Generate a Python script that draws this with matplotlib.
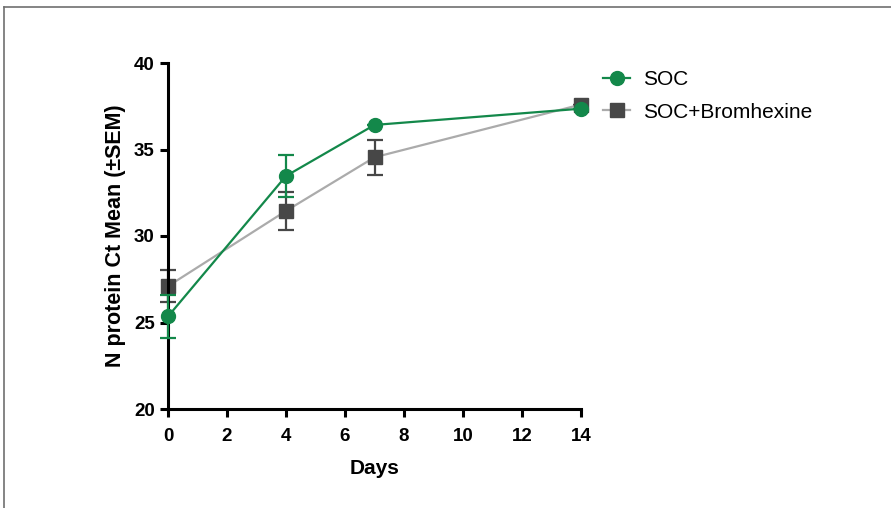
import matplotlib
matplotlib.use("Agg")
import matplotlib.pyplot as plt
from matplotlib.lines import Line2D

days = [0, 4, 7, 14]
soc_mean = [25.35, 33.47, 36.42, 37.36]
soc_sem = [1.22, 1.2, 0.0, 0.0]
brom_mean = [27.1, 31.45, 34.55, 37.6]
brom_sem = [0.92, 1.1, 1.0, 0.0]
series_labels = ["SOC", "SOC+Bromhexine"]
xticks = [0, 2, 4, 6, 8, 10, 12, 14]
yticks = [20, 25, 30, 35, 40]

plt.rcParams['font.family'] = ['Liberation Sans', 'DejaVu Sans']

fig = plt.figure(figsize=(8.91, 5.08), dpi=100)
ax = fig.add_axes([168/891, 1-409/508, (581-168)/891, (409-63)/508])

green = '#13884a'
gray_line = '#ababab'
gray_mk = '#474747'

ax.errorbar(days, brom_mean, yerr=brom_sem, color=gray_line, lw=1.6,
            marker='s', ms=10, mfc=gray_mk, mec=gray_mk, ecolor=gray_mk,
            elinewidth=1.6, capsize=6, capthick=1.6, zorder=2, clip_on=False)
ax.errorbar(days, soc_mean, yerr=soc_sem, color=green, lw=1.6,
            marker='o', ms=10, mfc=green, mec=green, ecolor=green,
            elinewidth=1.6, capsize=6, capthick=1.6, zorder=3, clip_on=False)

ax.set_xlim(0, 14)
ax.set_ylim(20, 40)
ax.set_xticks(xticks)
ax.set_yticks(yticks)
for s in ['top', 'right']:
    ax.spines[s].set_visible(False)
for s in ['left', 'bottom']:
    ax.spines[s].set_linewidth(2.2)
ax.tick_params(axis='both', direction='out', length=5.5, width=2.2, labelsize=13.5)
ax.tick_params(axis='x', pad=8)
ax.tick_params(axis='y', pad=4)
for lab in ax.get_xticklabels() + ax.get_yticklabels():
    lab.set_fontweight('bold')

ax.set_xlabel("Days", fontsize=15, fontweight='bold', labelpad=10)
ax.set_ylabel("N protein Ct Mean (±SEM)", fontsize=15.5, fontweight='bold', labelpad=6)

handles = [
    Line2D([], [], color=green, lw=1.6, marker='o', ms=10, mfc=green, mec=green),
    Line2D([], [], color=gray_line, lw=1.6, marker='s', ms=10, mfc=gray_mk, mec=gray_mk),
]
fig.legend(handles, series_labels, loc='upper left', bbox_to_anchor=(603/891, 1-70/508),
           frameon=False, fontsize=15, handlelength=1.3, handletextpad=0.6,
           labelspacing=0.65, borderaxespad=0, borderpad=0)

# figure frame lines (top and left)
fig.add_artist(Line2D([4/891, 1], [1-7/508, 1-7/508], color='#707070', lw=1.2, transform=fig.transFigure))
fig.add_artist(Line2D([4/891, 4/891], [0, 1-7/508], color='#707070', lw=1.2, transform=fig.transFigure))

fig.savefig("out.png", dpi=100)
